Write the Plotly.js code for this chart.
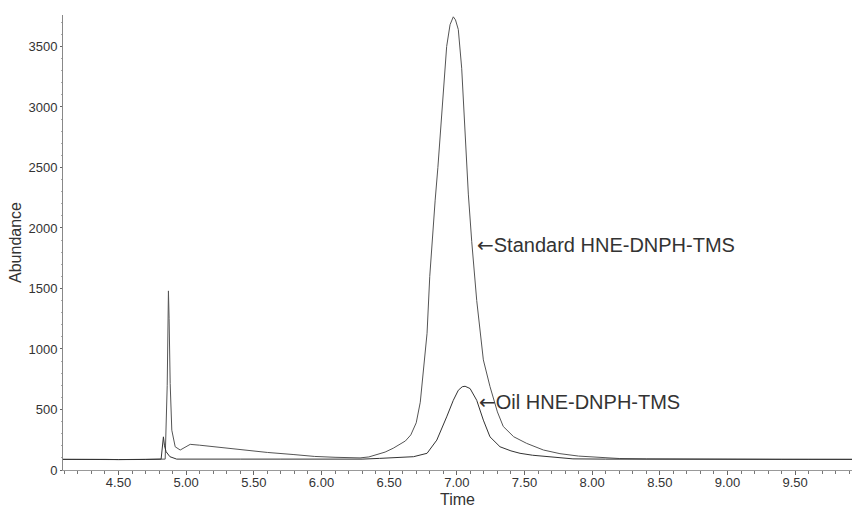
<!DOCTYPE html>
<html>
<head>
<meta charset="utf-8">
<script src="https://cdn.plot.ly/plotly-3.0.1.min.js"></script>
<style>html,body{margin:0;padding:0;background:#fff;}#chart{width:855px;height:508px;}</style>
</head>
<body>
<div id="chart"></div>
<script>
// Standard HNE-DNPH-TMS trace
const stdTime = [4.09, 4.20, 4.30, 4.40, 4.50, 4.60, 4.70, 4.80, 4.845, 4.86, 4.869, 4.874, 4.882, 4.894, 4.919, 4.956, 5.00, 5.03, 5.10, 5.20, 5.30, 5.45, 5.60, 5.79, 5.95, 6.10, 6.285, 6.35, 6.41, 6.47, 6.53, 6.58, 6.62, 6.66, 6.70, 6.73, 6.755, 6.78, 6.80, 6.82, 6.84, 6.86, 6.88, 6.90, 6.925, 6.95, 6.974, 6.99, 7.011, 7.036, 7.06, 7.085, 7.11, 7.147, 7.196, 7.245, 7.30, 7.343, 7.42, 7.516, 7.64, 7.762, 7.90, 8.05, 8.20, 8.40, 8.60, 8.80, 9.00, 9.20, 9.40, 9.60, 9.80, 9.92];
const stdAbund = [88, 90, 92, 88, 86, 86, 87, 88, 90, 700, 1480, 1250, 714, 329, 192, 165, 190, 212, 205, 192, 180, 162, 145, 128, 112, 105, 100, 108, 125, 148, 180, 210, 240, 290, 390, 560, 850, 1130, 1600, 1950, 2230, 2500, 2800, 3150, 3500, 3680, 3745, 3720, 3640, 3320, 2830, 2280, 1890, 1400, 910, 690, 480, 360, 275, 220, 165, 135, 115, 102, 95, 92, 90, 90, 88, 88, 88, 88, 88, 88];
// Oil HNE-DNPH-TMS trace
const oilTime = [4.09, 4.30, 4.50, 4.70, 4.80, 4.815, 4.832, 4.84, 4.852, 4.88, 4.93, 5.10, 5.40, 5.70, 6.00, 6.30, 6.43, 6.60, 6.68, 6.78, 6.852, 6.925, 6.974, 7.011, 7.04, 7.061, 7.08, 7.098, 7.147, 7.196, 7.245, 7.319, 7.40, 7.467, 7.56, 7.664, 7.76, 7.858, 8.10, 8.50, 9.00, 9.50, 9.92];
const oilAbund = [88, 90, 86, 87, 88, 90, 274, 200, 151, 110, 90, 92, 90, 90, 88, 90, 96, 103, 110, 138, 247, 439, 576, 659, 688, 692, 685, 673, 576, 412, 274, 192, 158, 138, 122, 110, 100, 92, 90, 89, 88, 88, 88];
// Labels
const labelText = ["Standard HNE-DNPH-TMS", "Oil HNE-DNPH-TMS"];
const labelTime = [7.134, 7.147];
const labelAbund = [1860, 560];

const font = "Liberation Sans, Arial, sans-serif";
const arrow = '<span style="font-family:DejaVu Sans">\u2190</span>';
const traces = [
  {x: stdTime, y: stdAbund, mode: "lines", line: {color: "#555", width: 1}, hoverinfo: "none"},
  {x: oilTime, y: oilAbund, mode: "lines", line: {color: "#333", width: 1}, hoverinfo: "none"}
];
const layout = {
  width: 855, height: 508,
  margin: {l: 63, r: 3, t: 15, b: 38},
  paper_bgcolor: "#fff", plot_bgcolor: "#fff",
  showlegend: false,
  font: {family: font, color: "#333", size: 13},
  xaxis: {
    range: [4.09, 9.92], showgrid: false, zeroline: false,
    showline: true, linecolor: "#999", linewidth: 1,
    tick0: 4.5, dtick: 0.5, tickformat: ".2f",
    ticks: "outside", ticklen: 4, tickcolor: "#666",
    ticklabelstandoff: -4,
    minor: {dtick: 0.1, ticks: "outside", ticklen: 3, tickcolor: "#777"},
    tickfont: {family: font, size: 13, color: "#333"},
    title: {text: "Time", font: {family: font, size: 16, color: "#333"}, standoff: 5}
  },
  yaxis: {
    range: [0, 3760], showgrid: false, zeroline: false,
    showline: true, linecolor: "#888", linewidth: 1,
    dtick: 500, tickformat: "d",
    ticks: "outside", ticklen: 2, tickcolor: "#666",
    minor: {dtick: 100, ticks: "outside", ticklen: 1, tickcolor: "#aaa"},
    tickfont: {family: font, size: 13, color: "#333"},
    title: {text: "Abundance", font: {family: font, size: 16, color: "#333"}, standoff: 2}
  },
  annotations: labelText.map((t, i) => ({
    x: labelTime[i], y: labelAbund[i], xref: "x", yref: "y",
    text: arrow + t, showarrow: false, xanchor: "left", yanchor: "middle",
    font: {family: font, size: 20, color: "#333"}
  }))
};
Plotly.newPlot("chart", traces, layout, {displayModeBar: false, staticPlot: true});
</script>
</body>
</html>
